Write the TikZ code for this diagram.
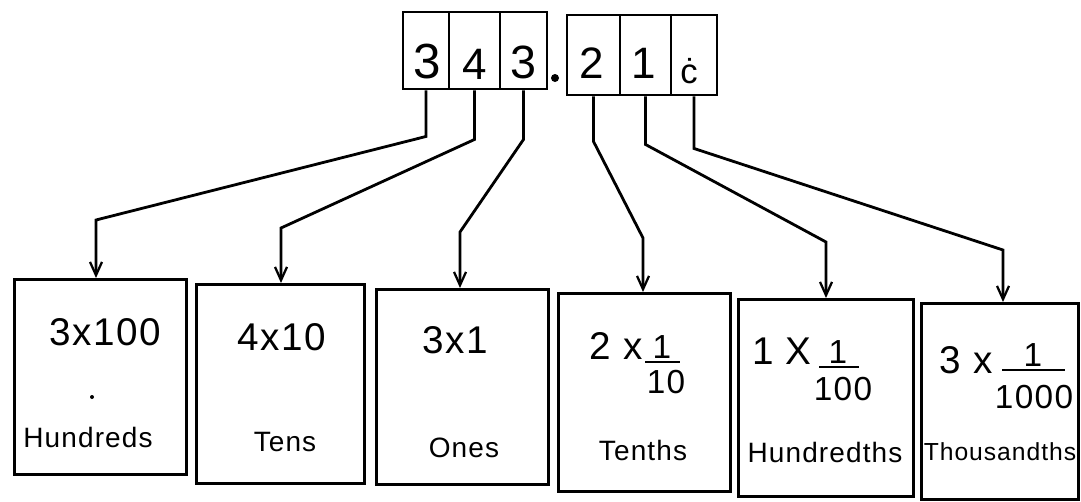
\documentclass[tikz,border=0pt]{standalone}
\usepackage{fontspec}
\setmainfont{Liberation Sans}
\newfontfamily\hand[LetterSpace=4]{Liberation Sans}
\usetikzlibrary{arrows.meta,calc}
\begin{document}
\begin{tikzpicture}[x=0.75pt,y=-0.75pt,
  cellbox/.style={draw,line width=2.2pt,inner sep=0pt,minimum height=#1},
  placebox/.style={draw,line width=2.5pt,inner sep=0pt,anchor=north west},
  digit/.style={anchor=base,inner sep=0pt,font=\hand\fontsize{33pt}{35pt}\selectfont},
  expr/.style={inner sep=0pt,font=\hand\fontsize{29pt}{31pt}\selectfont},
  fracnum/.style={inner sep=0pt,font=\hand\fontsize{25pt}{27pt}\selectfont},
  lbl/.style={inner sep=0pt,font=\hand\fontsize{21pt}{23pt}\selectfont},
  conn/.style={line width=2.1pt,-{Straight Barb[length=10pt,width=9pt,line width=1.7pt]}},
  fbar/.style={line width=2pt}]
\useasboundingbox (0,0) rectangle (1081,501);
% top cells
\node[cellbox=57.75pt,minimum width=34.5pt] (t1) at (426,50.5) {};
\node[cellbox=57.75pt,minimum width=38.25pt] (t2) at (474.5,50.5) {};
\node[cellbox=57.75pt,minimum width=35.25pt] (t3) at (523.5,50.5) {};
\node[cellbox=60pt,minimum width=39.75pt] (t4) at (593.5,55) {};
\node[cellbox=60pt,minimum width=38.25pt] (t5) at (645.5,55) {};
\node[cellbox=60pt,minimum width=34.5pt] (t6) at (694,55) {};
\node[digit,font=\hand\fontsize{37pt}{39pt}\selectfont] (d1) at (427,78) {3};
\node[digit] (d2) at (475,79) {4};
\node[digit,font=\hand\fontsize{35pt}{37pt}\selectfont] (d3) at (523,78) {3};
\node[digit] (d4) at (592,78) {2};
\node[digit] (d5) at (644,78) {1};
\node[digit,font=\hand\fontsize{26pt}{28pt}\selectfont] (d6) at (689,83) {ċ};
\fill (555,78) circle (4);
% bottom boxes
\node[placebox,minimum width=129pt,minimum height=146.25pt] (b1) at (13,278) {};
\node[placebox,minimum width=126pt,minimum height=149.25pt] (b2) at (195,283) {};
\node[placebox,minimum width=129pt,minimum height=146.25pt] (b3) at (375,288) {};
\node[placebox,minimum width=129pt,minimum height=148.5pt] (b4) at (557,292) {};
\node[placebox,minimum width=131.25pt,minimum height=147.75pt] (b5) at (737,298) {};
\node[placebox,minimum width=117.75pt,minimum height=147pt] (b6) at (920,302) {};
% connectors
\draw[conn] (t1.south) -- ++(0,46) -- ($(b1.north west)+(83,-58)$) -- ($(b1.north west)+(83,0)$);
\draw[conn] (t2.south) -- ++(0,49) -- ($(b2.north west)+(86,-55)$) -- ($(b2.north west)+(86,0)$);
\draw[conn] (t3.south) -- ++(0,49) -- ($(b3.north west)+(85,-56)$) -- ($(b3.north west)+(85,0)$);
\draw[conn] (t4.south) -- ++(0,45) -- ($(b4.north west)+(86,-54)$) -- ($(b4.north west)+(86,0)$);
\draw[conn] (t5.south) -- ++(0,48) -- ($(b5.north west)+(89,-56)$) -- ($(b5.north west)+(89,0)$);
\draw[conn] (t6.south) -- ++(0,52) -- ($(b6.north west)+(83,-52)$) -- ($(b6.north west)+(83,0)$);
% box contents
\node[expr] (e1) at (105,332) {3x100};
\fill (92,397) circle (2);
\node[lbl] (l1) at (88,437) {Hundreds};
\node[expr] (e2) at (282,337) {4x10};
\node[lbl] (l2) at (285,442) {Tens};
\node[expr] (e3) at (455,340) {3x1};
\node[lbl] (l3) at (464,448) {Ones};
\node[expr,anchor=east] (e4) at (643,346) {2 x};
\node[fracnum,anchor=south] (n4) at (662,359) {1};
\node[fracnum] (m4) at (666,382) {10};
\draw[fbar] (645,362) -- (680,362);
\node[lbl] (l4) at (643,450) {Tenths};
\node[expr,anchor=east] (e5) at (812,351) {1 X};
\node[fracnum,anchor=south] (n5) at (838,364) {1};
\node[fracnum] (m5) at (843,389) {100};
\draw[fbar] (819,367) -- (859,367);
\node[lbl] (l5) at (825,452) {Hundredths};
\node[expr,anchor=east] (e6) at (993,360) {3 x};
\node[fracnum,anchor=south] (n6) at (1033,367) {1};
\node[fracnum] (m6) at (1034,397) {1000};
\draw[fbar] (1002,370) -- (1065,370);
\node[lbl,font=\hand\fontsize{18.5pt}{20pt}\selectfont] (l6) at (1000,452) {Thousandths};
\end{tikzpicture}
\end{document}
